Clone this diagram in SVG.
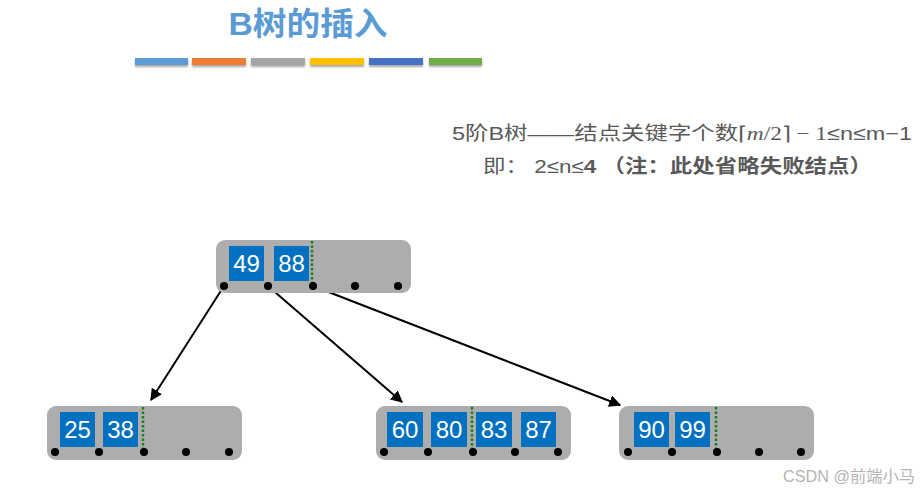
<svg xmlns="http://www.w3.org/2000/svg" width="923" height="493" viewBox="0 0 923 493">
<defs>
<style>
.node{fill:#adadad;}
.key{fill:#0070c0;}
.kt{fill:#fff;font-family:"Liberation Sans","Noto Sans CJK SC",sans-serif;font-size:24px;text-anchor:middle;}
.dot{fill:#000;}
.sep{stroke:#1e7d1e;stroke-width:2.5;stroke-dasharray:2.5 2;}
.edge{stroke:#000;stroke-width:2;fill:none;marker-end:url(#ah);}
.info{font-family:"Liberation Sans","Noto Sans CJK SC",sans-serif;font-size:19px;fill:#595959;}
</style>
<marker id="ah" viewBox="0 0 10 10" refX="9" refY="5" markerWidth="6" markerHeight="6" orient="auto" markerUnits="strokeWidth">
<path d="M0,0 L10,5 L0,10 z" fill="#000"/>
</marker>
<filter id="sh" x="-10%" y="-50%" width="120%" height="250%">
<feDropShadow dx="0" dy="2" stdDeviation="1.2" flood-color="#000" flood-opacity="0.35"/>
</filter>
</defs>
<rect width="923" height="493" fill="#fff"/>

<g id="title">
<text x="308" y="35" font-family="Liberation Sans,Noto Sans CJK SC,sans-serif" font-size="32" font-weight="bold" fill="#5b9bd5" text-anchor="middle" textLength="159" lengthAdjust="spacingAndGlyphs">B树的插入</text>
<g filter="url(#sh)">
<rect x="135" y="58" width="53" height="7" fill="#5b9bd5"/>
<rect x="192" y="58" width="54" height="7" fill="#ed7d31"/>
<rect x="251" y="58" width="54" height="7" fill="#a5a5a5"/>
<rect x="310" y="58" width="54" height="7" fill="#ffc000"/>
<rect x="369" y="58" width="54" height="7" fill="#4472c4"/>
<rect x="429" y="58" width="53" height="7" fill="#70ad47"/>
</g>
</g>

<g id="info">
<text class="info" x="452" y="140" textLength="460" lengthAdjust="spacingAndGlyphs">5阶B树——结点关键字个数<tspan font-family="Liberation Serif,serif">⌈<tspan font-style="italic">m</tspan>/2⌉ − 1</tspan>≤n≤m−1</text>
<text class="info" x="483" y="173" textLength="389" lengthAdjust="spacingAndGlyphs">即：  2≤n≤<tspan font-weight="bold">4  （注：此处省略失败结点）</tspan></text>
</g>

<g id="connectors">
<line class="edge" x1="224" y1="286" x2="151" y2="400"/>
<line class="edge" x1="268" y1="286" x2="402" y2="402"/>
<line class="edge" x1="313" y1="286" x2="620" y2="405"/>
</g>

<g id="root">
<rect class="node" x="216" y="240" width="195" height="53" rx="9"/>
<rect class="key" x="229" y="246" width="35" height="35"/>
<text class="kt" x="246.5" y="272">49</text>
<rect class="key" x="274" y="246" width="35" height="35"/>
<text class="kt" x="291.5" y="272">88</text>
<line class="sep" x1="312" y1="241" x2="312" y2="284"/>
<circle class="dot" cx="224" cy="286" r="4"/>
<circle class="dot" cx="268" cy="286" r="4"/>
<circle class="dot" cx="313" cy="286" r="4"/>
<circle class="dot" cx="355" cy="286" r="4"/>
<circle class="dot" cx="398" cy="286" r="4"/>
</g>

<g id="left">
<rect class="node" x="47" y="406" width="195" height="54" rx="9"/>
<rect class="key" x="60" y="412" width="35" height="35"/>
<text class="kt" x="77.5" y="438">25</text>
<rect class="key" x="103" y="412" width="35" height="35"/>
<text class="kt" x="120.5" y="438">38</text>
<line class="sep" x1="143" y1="407" x2="143" y2="450"/>
<circle class="dot" cx="55" cy="452" r="4"/>
<circle class="dot" cx="99" cy="452" r="4"/>
<circle class="dot" cx="144" cy="452" r="4"/>
<circle class="dot" cx="186" cy="452" r="4"/>
<circle class="dot" cx="229" cy="452" r="4"/>
</g>

<g id="middle">
<rect class="node" x="376" y="406" width="195" height="54" rx="9"/>
<rect class="key" x="387" y="412" width="36" height="35"/>
<text class="kt" x="405" y="438">60</text>
<rect class="key" x="431" y="412" width="36" height="35"/>
<text class="kt" x="449" y="438">80</text>
<rect class="key" x="476" y="412" width="36" height="35"/>
<text class="kt" x="494" y="438">83</text>
<rect class="key" x="521" y="412" width="35" height="35"/>
<text class="kt" x="538.5" y="438">87</text>
<line class="sep" x1="472" y1="407" x2="472" y2="450"/>
<circle class="dot" cx="384" cy="452" r="4"/>
<circle class="dot" cx="428" cy="452" r="4"/>
<circle class="dot" cx="473" cy="452" r="4"/>
<circle class="dot" cx="515" cy="452" r="4"/>
<circle class="dot" cx="558" cy="452" r="4"/>
</g>

<g id="right">
<rect class="node" x="619" y="406" width="195" height="54" rx="9"/>
<rect class="key" x="634" y="412" width="35" height="35"/>
<text class="kt" x="651.5" y="438">90</text>
<rect class="key" x="675" y="412" width="35" height="35"/>
<text class="kt" x="692.5" y="438">99</text>
<line class="sep" x1="716" y1="407" x2="716" y2="450"/>
<circle class="dot" cx="628" cy="452" r="4"/>
<circle class="dot" cx="672" cy="452" r="4"/>
<circle class="dot" cx="717" cy="452" r="4"/>
<circle class="dot" cx="759" cy="452" r="4"/>
<circle class="dot" cx="801" cy="452" r="4"/>
</g>

<g id="watermark">
<text x="783" y="482" font-family="Liberation Sans,Noto Sans CJK SC,sans-serif" font-size="16" fill="#b4b4b4" textLength="132" lengthAdjust="spacingAndGlyphs">CSDN @前端小马</text>
</g>
</svg>
